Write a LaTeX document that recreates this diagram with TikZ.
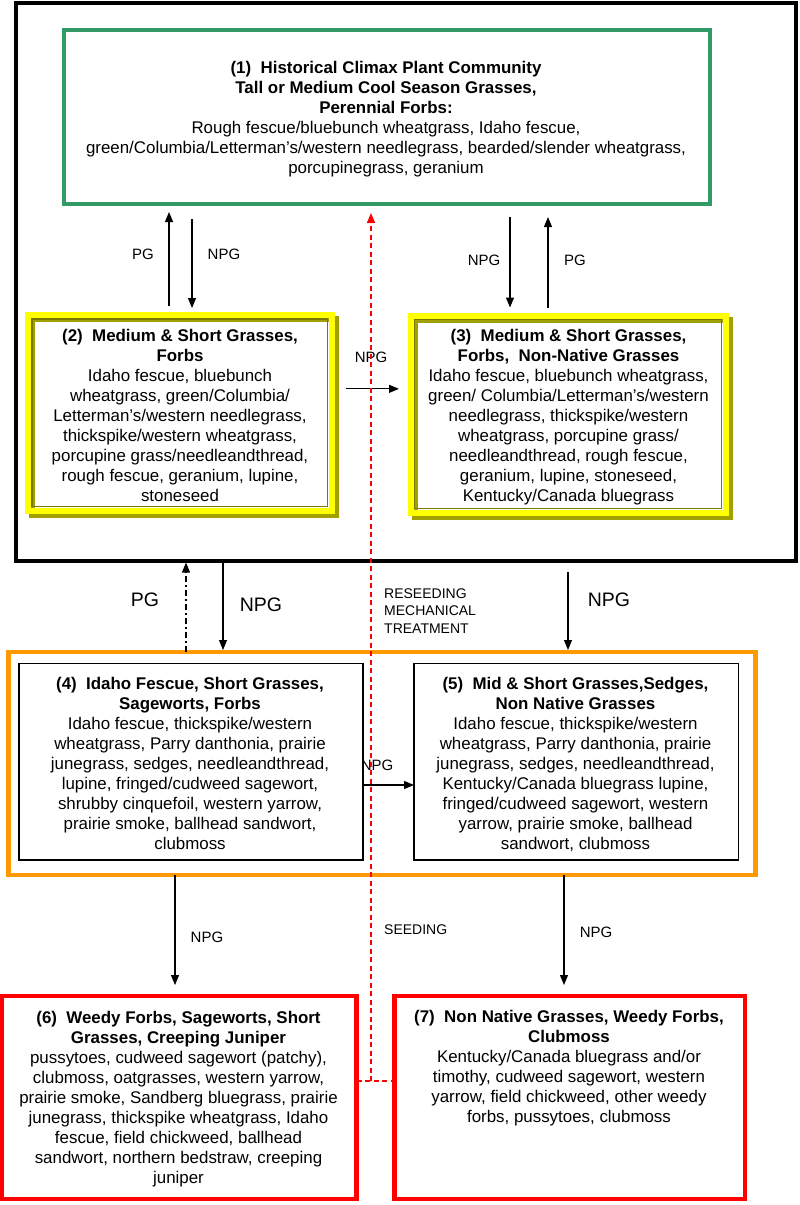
\documentclass[tikz,border=0pt]{standalone}
\usepackage{fontspec}
\setmainfont{Liberation Sans}
\usetikzlibrary{arrows.meta,shadows}
\definecolor{grn}{RGB}{51,153,102}
\definecolor{yel}{RGB}{255,255,0}
\definecolor{olv}{RGB}{160,160,0}
\definecolor{olvd}{RGB}{120,120,0}
\definecolor{org}{RGB}{255,153,0}
\definecolor{rd}{RGB}{255,0,0}
\begin{document}
\begin{tikzpicture}[x=1pt,y=-1pt,
  boxbase/.style={rectangle,inner sep=0pt,outer sep=0pt},
  blackframe/.style={boxbase,draw=black,line width=4pt},
  greenbox/.style={boxbase,draw=grn,line width=4pt},
  yelbox/.style={boxbase,draw=yel,line width=6pt,
     general shadow={shadow xshift=4pt,shadow yshift=-4pt,draw=olv,line width=6pt}},
  yelinner/.style={draw=olvd,line width=1.2pt},
  orgbox/.style={boxbase,draw=org,line width=4.5pt},
  thinbox/.style={boxbase,draw=black,line width=1.2pt},
  redbox/.style={boxbase,draw=rd,line width=4.5pt},
  txt/.style={align=center,anchor=north,inner sep=0pt,font=\fontsize{16.9}{20}\selectfont},
  lab/.style={inner sep=0pt,font=\fontsize{15}{18}\selectfont},
  biglab/.style={inner sep=0pt,font=\fontsize{19.5}{23}\selectfont},
  smalllab/.style={inner sep=0pt,font=\fontsize{14}{17.5}\selectfont},
  arr/.style={-{Triangle[width=8pt,length=10pt]},line width=1.1pt,draw=black},
  dashdotline/.style={dash pattern=on 6pt off 3pt on 2pt off 3pt},
  reddash/.style={draw=rd,color=rd,line width=1.4pt,dash pattern=on 5pt off 3.5pt}
]
\useasboundingbox (0,0) rectangle (800,1205);

% frames
\node[blackframe,minimum width=780pt,minimum height=558pt] (outer) at (406,281.5) {};
\node[greenbox,minimum width=646.2pt,minimum height=173.7pt] (b1) at (386.6,117.15) {};
\node[yelbox,minimum width=303.5pt,minimum height=195.7pt] (b2) at (179.75,412.85) {};
\draw[yelinner] ([shift={(4pt,-4pt)}]b2.north west) rectangle ([shift={(-4pt,4pt)}]b2.south east);
\node[yelbox,minimum width=315pt,minimum height=197pt] (b3) at (568,414) {};
\draw[yelinner] ([shift={(4pt,-4pt)}]b3.north west) rectangle ([shift={(-4pt,4pt)}]b3.south east);
\node[orgbox,minimum width=747pt,minimum height=223pt] (orng) at (382,763.5) {};
\node[thinbox,minimum width=344pt,minimum height=196.7pt] (b4) at (191,761.65) {};
\node[thinbox,minimum width=324.5pt,minimum height=196.7pt] (b5) at (576.25,761.65) {};
\node[redbox,minimum width=354.5pt,minimum height=203pt] (b6) at (179.25,1097.5) {};
\node[redbox,minimum width=350.5pt,minimum height=203pt] (b7) at (569.75,1097.5) {};

% texts
\node[txt] (t1) at (386,59) {\strut\textbf{(1)\ \ Historical Climax Plant Community}\\
\textbf{Tall or Medium Cool Season Grasses,}\\
\textbf{Perennial Forbs:}\\
Rough fescue/bluebunch wheatgrass, Idaho fescue,\\
green/Columbia/Letterman's/western needlegrass, bearded/slender wheatgrass,\\
porcupinegrass, geranium};

\node[txt] (t2) at (180,327) {\strut\textbf{(2)\ \ Medium \& Short Grasses,}\\
\textbf{Forbs}\\
Idaho fescue, bluebunch\\
wheatgrass, green/Columbia/\\
Letterman's/western needlegrass,\\
thickspike/western wheatgrass,\\
porcupine grass/needleandthread,\\
rough fescue, geranium, lupine,\\
stoneseed};

\node[txt] (t3) at (568.5,327) {\strut\textbf{(3)\ \ Medium \& Short Grasses,}\\
\textbf{Forbs,\ \ Non-Native Grasses}\\
Idaho fescue, bluebunch wheatgrass,\\
green/ Columbia/Letterman's/western\\
needlegrass, thickspike/western\\
wheatgrass, porcupine grass/\\
needleandthread, rough fescue,\\
geranium, lupine, stoneseed,\\
Kentucky/Canada bluegrass};

\node[txt] (t4) at (190,675) {\strut\textbf{(4)\ \ Idaho Fescue, Short Grasses,}\\
\textbf{Sageworts, Forbs}\\
Idaho fescue, thickspike/western\\
wheatgrass, Parry danthonia, prairie\\
junegrass, sedges, needleandthread,\\
lupine, fringed/cudweed sagewort,\\
shrubby cinquefoil, western yarrow,\\
prairie smoke, ballhead sandwort,\\
clubmoss};

\node[txt] (t5) at (575.5,675) {\strut\textbf{(5)\ \ Mid \& Short Grasses,Sedges,}\\
\textbf{Non Native Grasses}\\
Idaho fescue, thickspike/western\\
wheatgrass, Parry danthonia, prairie\\
junegrass, sedges, needleandthread,\\
Kentucky/Canada bluegrass lupine,\\
fringed/cudweed sagewort, western\\
yarrow, prairie smoke, ballhead\\
sandwort, clubmoss};

\node[txt] (t6) at (178.5,1009) {\strut\textbf{(6)\ \ Weedy Forbs, Sageworts, Short}\\
\textbf{Grasses, Creeping Juniper}\\
pussytoes, cudweed sagewort (patchy),\\
clubmoss, oatgrasses, western yarrow,\\
prairie smoke, Sandberg bluegrass, prairie\\
junegrass, thickspike wheatgrass, Idaho\\
fescue, field chickweed, ballhead\\
sandwort, northern bedstraw, creeping\\
juniper};

\node[txt] (t7) at (569,1008) {\strut\textbf{(7)\ \ Non Native Grasses, Weedy Forbs,}\\
\textbf{Clubmoss}\\
Kentucky/Canada bluegrass and/or\\
timothy, cudweed sagewort, western\\
yarrow, field chickweed, other weedy\\
forbs, pussytoes, clubmoss};

% top arrows
\draw[arr,shorten <=9pt,shorten >=8pt] ([xshift=-10.75pt]b2.north) -- ([xshift=-10.75pt]b2.north |- b1.south);
\draw[arr,shorten <=15pt,shorten >=7pt] ([xshift=12.25pt]b2.north |- b1.south) -- ([xshift=12.25pt]b2.north);
\draw[arr,shorten <=13pt,shorten >=8pt] ([xshift=-58pt]b3.north |- b1.south) -- ([xshift=-58pt]b3.north);
\draw[arr,shorten <=8pt,shorten >=13pt] ([xshift=-20pt]b3.north) -- ([xshift=-20pt]b3.north |- b1.south);
\node[lab] (l1) at (143,254) {PG};
\node[lab] (l2) at (224,254) {NPG};
\node[lab] (l3) at (484,260) {NPG};
\node[lab] (l4) at (575,260) {PG};

% 2 -> 3
\draw[arr,shorten <=14.5pt,shorten >=11.5pt] ([yshift=24pt]b2.east) -- ([yshift=24pt]b2.east -| b3.west);
\node[lab] (l5) at (371,357) {NPG};

% middle arrows
\draw[arr,dashdotline,shorten >=2pt] ([xshift=-196pt]orng.north) -- ([xshift=-196pt]orng.north |- outer.south);
\draw[arr,shorten >=2pt] ([xshift=-159pt]orng.north |- outer.south) -- ([xshift=-159pt]orng.north);
\draw[arr,shorten <=11.5pt,shorten >=2pt] ([xshift=186pt]orng.north |- outer.south) -- ([xshift=186pt]orng.north);
\node[biglab] (l6) at (145,600) {PG};
\node[biglab] (l7) at (261,605) {NPG};
\node[biglab] (l8) at (609,600) {NPG};
\node[smalllab,align=left,anchor=north west] (l9) at (384,585.75) {\strut RESEEDING\\MECHANICAL\\TREATMENT};

% 4 -> 5
\draw[arr] ([yshift=-23.35pt]b4.east) -- ([yshift=-23.35pt]b4.east -| b5.west);
\node[lab] (l10) at (377,765) {NPG};

% bottom arrows
\draw[arr,shorten >=11pt] ([xshift=-4.25pt]b6.north |- orng.south) -- ([xshift=-4.25pt]b6.north);
\draw[arr,shorten >=11pt] ([xshift=-5.75pt]b7.north |- orng.south) -- ([xshift=-5.75pt]b7.north);
\node[lab] (l11) at (207,937) {NPG};
\node[lab] (l12) at (596,932) {NPG};
\node[smalllab,anchor=west] (l13) at (384,930) {SEEDING};

% red seeding / reseeding connector
\coordinate (J) at ([xshift=14.5pt,yshift=16.5pt]b6.east);
\draw[reddash] ([yshift=16.5pt]b6.east) -- ([yshift=16.5pt]b6.east -| b7.west);
\draw[reddash,-{Triangle[width=8pt,length=10pt]},shorten >=9pt] (J) -- (J |- b1.south);
\end{tikzpicture}
\end{document}
